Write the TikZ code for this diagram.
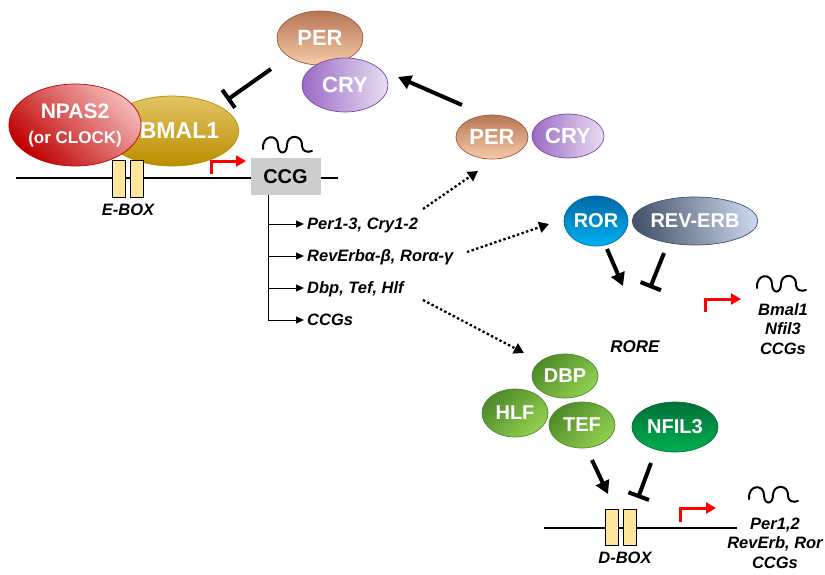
\documentclass[tikz,border=0pt]{standalone}
\usepackage{fontspec}
\setmainfont{Liberation Sans}
\usetikzlibrary{arrows.meta,shapes.geometric}

\definecolor{perdark}{HTML}{B77656}
\definecolor{perlight}{HTML}{F7CBA9}
\definecolor{perline}{HTML}{9A5A3A}
\definecolor{crydark}{HTML}{9A6AC4}
\definecolor{crylight}{HTML}{E8DFF2}
\definecolor{cryline}{HTML}{7A4AA8}
\definecolor{npasdark}{HTML}{C00000}
\definecolor{npaslight}{HTML}{F4B8B8}
\definecolor{bmaldark}{HTML}{BB8E00}
\definecolor{bmallight}{HTML}{E2C465}
\definecolor{rordark}{HTML}{0068A8}
\definecolor{rorlight}{HTML}{00B0F0}
\definecolor{revdark}{HTML}{46546C}
\definecolor{revlight}{HTML}{C8D4E8}
\definecolor{dbpdark}{HTML}{4E8A28}
\definecolor{dbplight}{HTML}{92D050}
\definecolor{nfildark}{HTML}{007038}
\definecolor{nfillight}{HTML}{00B050}
\definecolor{boxyellow}{HTML}{FFE699}
\definecolor{ccggray}{HTML}{CDCDCD}

\begin{document}
\begin{tikzpicture}[x=1pt,y=-1pt,
prot/.style={ellipse,draw,line width=0.7pt,inner sep=0pt,text=white,font=\fontsize{22}{24}\selectfont\bfseries},
gene/.style={inner sep=0pt,font=\fontsize{16.5}{19.5}\selectfont\bfseries\itshape},
branchlab/.style={gene,anchor=west,text height=12pt,text depth=1pt},
boxel/.style={draw,line width=1pt,fill=boxyellow,minimum width=13pt,minimum height=37pt,inner sep=0pt},
dna/.style={line width=2.8pt},
act/.style={line width=4pt,-{Triangle[length=13pt,width=14pt]}},
inh/.style={line width=4pt,-{Bar[width=22pt]}},
hint/.style={line width=2.3pt,dash pattern=on 2.4pt off 2.4pt,-{Triangle[length=10pt,width=11pt]}},
prom/.style={red,line width=3pt,-{Triangle[length=10pt,width=11pt]}},
branch/.style={line width=0.9pt,-{Triangle[length=8pt,width=7pt]},shorten >=3pt},
mrna/.pic={\draw[line width=2pt,line cap=round] (0,4) .. controls (-1,-11) and (15,-11) .. (15,0) .. controls (15,10) and (24,10) .. (24,0) .. controls (24,-11) and (40,-11) .. (39,1) .. controls (39,6) and (44,8) .. (49,6);}]
\useasboundingbox (0,0) rectangle (825,574);
% DNA lines
\coordinate (eL) at (16,178);
\coordinate (eR) at (338,178);
\coordinate (dL) at (544,528);
\coordinate (dR) at (737,528);
\draw[dna] (eL) -- (eR);
\draw[dna] (dL) -- (dR);
% E-box side
\node[prot,minimum width=100pt,minimum height=70pt,draw=bmaldark,top color=bmallight,bottom color=bmaldark,font=\fontsize{23}{25}\selectfont\bfseries] (bmal) at (172,131) {\hspace*{15pt}BMAL1};
\node[prot,minimum width=116pt,minimum height=82pt,draw=npasdark,left color=npasdark,right color=npaslight,shading angle=135,align=center,font=\fontsize{21}{25}\selectfont\bfseries] (npas) at (75,125) {NPAS2\\{\fontsize{17}{20}\selectfont(or CLOCK)}};
\node[boxel] (eb1) at (118.5,178.5) {};
\node[boxel] (eb2) at (136.5,178.5) {};
\node[gene] (ebox) at (128,210) {E-BOX};
\node[fill=ccggray,minimum width=70pt,minimum height=37pt,inner sep=0pt,font=\fontsize{20}{22}\selectfont\bfseries] (ccg) at (285.5,176.5) {CCG};
\pic at (263,145) {mrna};
\coordinate (pE) at (211,174);
\coordinate (pEend) at (246,161);
\draw[prom] (pE) |- (pEend);
% PER/CRY complex
\node[prot,minimum width=86pt,minimum height=54pt,draw=perline,top color=perdark,bottom color=perlight] (per) at (320,38) {PER};
\node[prot,minimum width=86pt,minimum height=54pt,draw=cryline,left color=crydark,right color=crylight] (cry) at (345,85) {CRY};
\coordinate (inhS) at (271,69);
\coordinate (inhE) at (227,100);
\draw[inh] (inhS) -- (inhE);
\node[prot,minimum width=72pt,minimum height=44pt,draw=perline,top color=perdark,bottom color=perlight] (pers) at (492,137) {PER};
\node[prot,minimum width=72pt,minimum height=44pt,draw=cryline,left color=crydark,right color=crylight] (crys) at (568,136) {CRY};
\coordinate (impS) at (462,105);
\coordinate (impE) at (398,77);
\draw[act] (impS) -- (impE);
% CCG targets
\coordinate (tr) at (268,195);
\node[branchlab] (g1) at (307,224) {Per1-3, Cry1-2};
\node[branchlab] (g2) at (307,256) {RevErbα-β, Rorα-γ};
\node[branchlab] (g3) at (307,288) {Dbp, Tef, Hlf};
\node[branchlab] (g4) at (307,320) {CCGs};
\draw[branch] (tr) |- (g4.west);
\draw[branch] (tr |- g1.west) -- (g1.west);
\draw[branch] (tr |- g2.west) -- (g2.west);
\draw[branch] (tr |- g3.west) -- (g3.west);
\coordinate (h1s) at (423,209);
\coordinate (h1e) at (478,171);
\coordinate (h2s) at (467,252);
\coordinate (h2e) at (549,224);
\coordinate (h3s) at (423,300);
\coordinate (h3e) at (524,353);
\draw[hint] (h1s) -- (h1e);
\draw[hint] (h2s) -- (h2e);
\draw[hint] (h3s) -- (h3e);
% RORE side
\node[prot,minimum width=64pt,minimum height=50pt,draw=rordark,top color=rordark,bottom color=rorlight,font=\fontsize{20}{22}\selectfont\bfseries] (ror) at (596,221) {ROR};
\node[prot,minimum width=116pt,minimum height=48pt,draw=revdark,left color=revdark,right color=revlight,shading angle=100,font=\fontsize{20}{22}\selectfont\bfseries] (rev) at (695,221) {REV-ERB};
\coordinate (rorS) at (607,249);
\coordinate (rorE) at (623,286);
\coordinate (revS) at (664,253);
\coordinate (revE) at (650,288);
\draw[act] (rorS) -- (rorE);
\draw[inh] (revS) -- (revE);
\node[gene,font=\fontsize{17}{19}\selectfont\bfseries\itshape] (rore) at (635,347) {RORE};
\coordinate (pR) at (705,312);
\coordinate (pRend) at (741,299);
\draw[prom] (pR) |- (pRend);
\pic at (757,284) {mrna};
\node[gene,align=center] (roreout) at (783,329) {Bmal1\\Nfil3\\CCGs};
% D-box side
\node[prot,minimum width=66pt,minimum height=44pt,draw=dbpdark,left color=dbpdark,right color=dbplight,shading angle=45,font=\fontsize{20}{22}\selectfont\bfseries] (dbp) at (565,376) {DBP};
\node[prot,minimum width=66pt,minimum height=48pt,draw=dbpdark,left color=dbpdark,right color=dbplight,shading angle=45,font=\fontsize{20}{22}\selectfont\bfseries] (hlf) at (515,413) {HLF};
\node[prot,minimum width=66pt,minimum height=46pt,draw=dbpdark,left color=dbpdark,right color=dbplight,shading angle=45,font=\fontsize{20}{22}\selectfont\bfseries] (tef) at (582,425) {TEF};
\node[prot,minimum width=86pt,minimum height=50pt,draw=nfildark,top color=nfildark,bottom color=nfillight,font=\fontsize{20}{22}\selectfont\bfseries] (nfil) at (675,427) {NFIL3};
\coordinate (dbpS) at (592,460);
\coordinate (dbpE) at (608,494);
\coordinate (nfilS) at (651,463);
\coordinate (nfilE) at (638,498);
\draw[act] (dbpS) -- (dbpE);
\draw[inh] (nfilS) -- (nfilE);
\node[boxel,minimum height=36pt] (db1) at (611.5,527) {};
\node[boxel,minimum height=36pt] (db2) at (629.5,527) {};
\node[gene] (dbox) at (625,558) {D-BOX};
\coordinate (pD) at (680,522);
\coordinate (pDend) at (716,508);
\draw[prom] (pD) |- (pDend);
\pic at (749,495) {mrna};
\node[gene,align=center] (dout) at (775,543) {Per1,2\\RevErb, Ror\\CCGs};
\end{tikzpicture}
\end{document}
